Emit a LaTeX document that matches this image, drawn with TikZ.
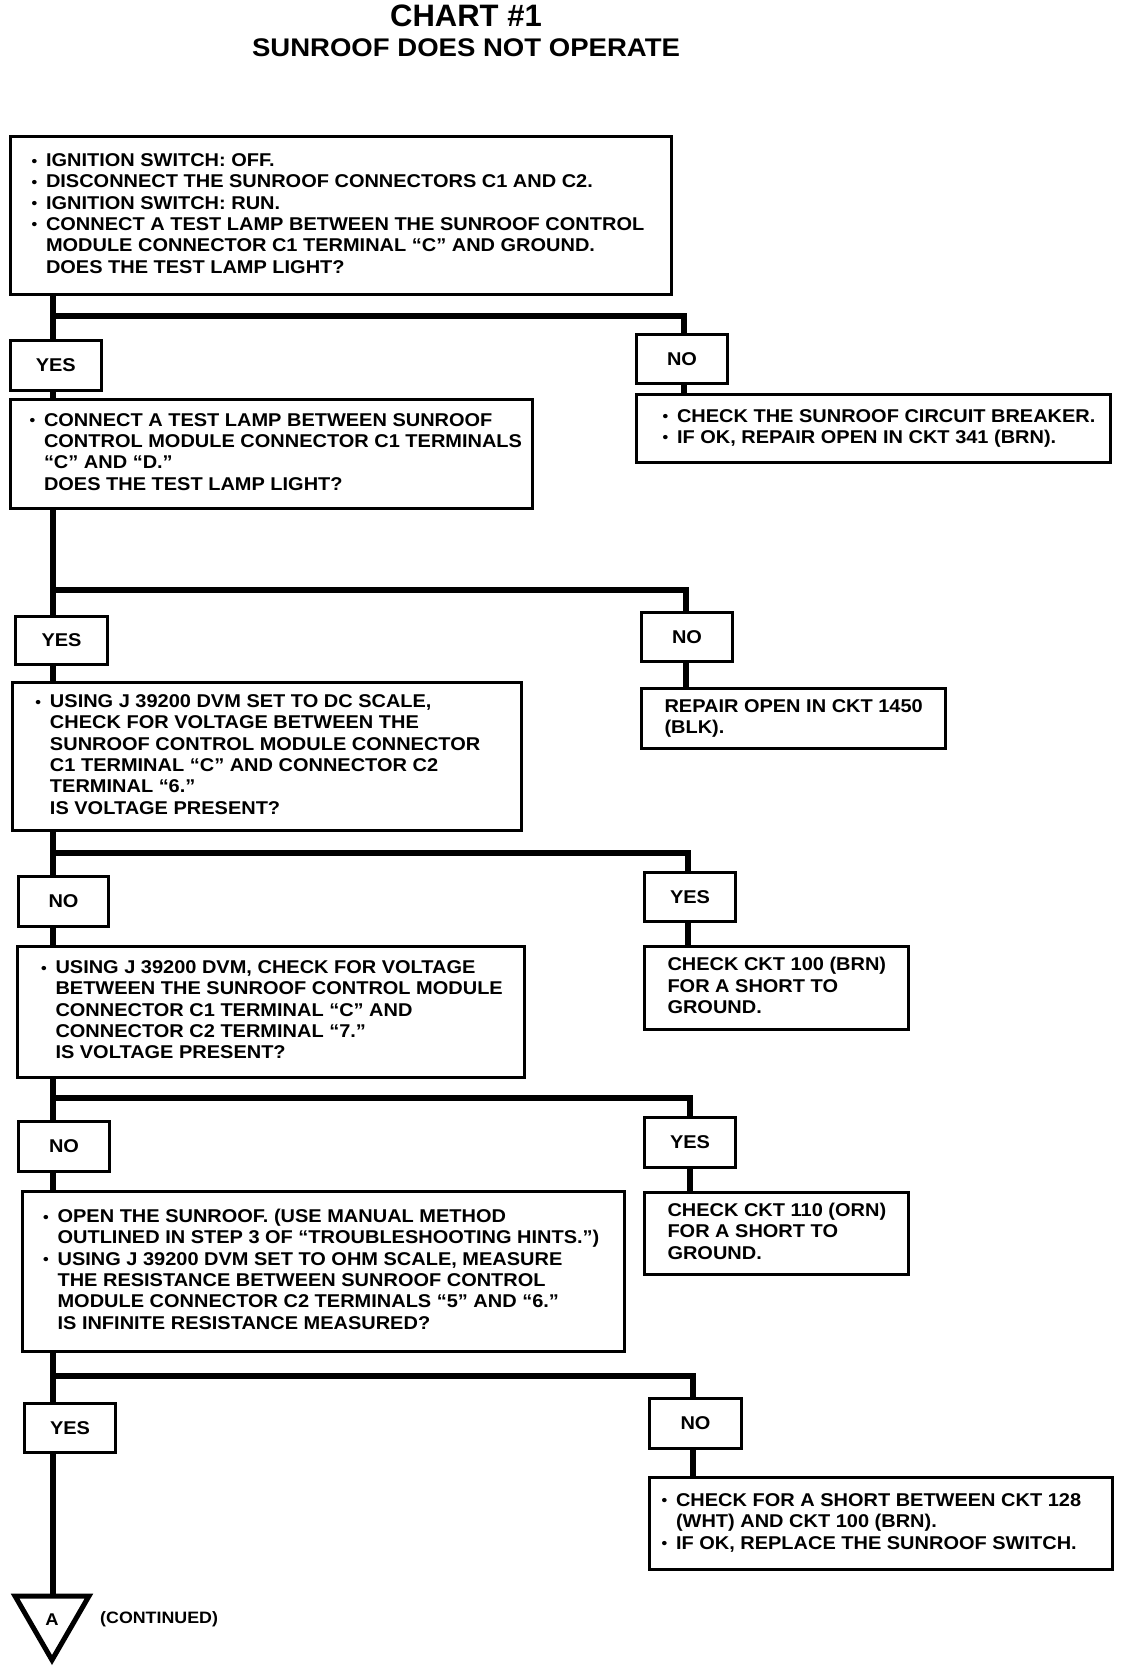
\documentclass[tikz,border=0pt]{standalone}
\usepackage{fontspec}
\newfontfamily\cf{Liberation Sans}[FakeStretch=1.08]
\newfontfamily\tf{Liberation Sans}
\usetikzlibrary{backgrounds}
\newcommand\bu{\makebox[14.5pt][l]{\raisebox{0.5pt}{\fontsize{15}{15}\selectfont •}}}
\newcommand\ind{\hspace*{14.5pt}}
\newcommand\btext[3]{\makebox[#1pt][l]{\hspace*{#2pt}\begin{tabular}{@{}l@{}}#3\end{tabular}}}
\tikzset{
  chart/.style={font=\cf\bfseries\fontsize{18.5}{21.3}\selectfont},
  box/.style={draw, line width=3pt, fill=white, inner sep=0pt, anchor=north west, chart},
  ans/.style={box, align=center},
  conn/.style={line width=5.5pt},
  hconn/.style={line width=6.5pt, line cap=rect},
}
\begin{document}
\begin{tikzpicture}[x=1pt, y=-1pt]
\useasboundingbox (0,0) rectangle (1120,1672);
% titles
\node[font=\tf\bfseries\fontsize{31}{31}\selectfont] (title) at (466,16) {CHART \#1};
\node[font=\cf\bfseries\fontsize{25.5}{25.5}\selectfont] (subtitle) at (466,48) {SUNROOF DOES NOT OPERATE};
% level 1
\node[box, minimum width=661.5pt, minimum height=158pt] (b1) at (8.5,135) {\btext{661.5}{21.5}{%
\bu IGNITION SWITCH: OFF.\\
\bu DISCONNECT THE SUNROOF CONNECTORS C1 AND C2.\\
\bu IGNITION SWITCH: RUN.\\
\bu CONNECT A TEST LAMP BETWEEN THE SUNROOF CONTROL\\
\ind MODULE CONNECTOR C1 TERMINAL “C” AND GROUND.\\
\ind DOES THE TEST LAMP LIGHT?}};
\node[ans, minimum width=91.5pt, minimum height=50pt] (y1) at (8.5,339) {YES};
\node[ans, minimum width=91pt, minimum height=49pt] (n1) at (635,333) {NO};
\node[box, minimum width=474pt, minimum height=68pt] (r1) at (635,393) {\btext{474}{26}{%
\bu CHECK THE SUNROOF CIRCUIT BREAKER.\\
\bu IF OK, REPAIR OPEN IN CKT 341 (BRN).}};
% level 2
\node[box, minimum width=522.5pt, minimum height=109pt] (b2) at (8.5,398) {\btext{522.5}{19.5}{%
\bu CONNECT A TEST LAMP BETWEEN SUNROOF\\
\ind CONTROL MODULE CONNECTOR C1 TERMINALS\\
\ind “C” AND “D.”\\
\ind DOES THE TEST LAMP LIGHT?}};
\node[ans, minimum width=92pt, minimum height=48pt] (y2) at (14,615) {YES};
\node[ans, minimum width=91pt, minimum height=49pt] (n2) at (640,611) {NO};
\node[box, minimum width=304pt, minimum height=60pt] (r2) at (640,687) {\btext{304}{23}{%
REPAIR OPEN IN CKT 1450\\
(BLK).}};
% level 3
\node[box, minimum width=509pt, minimum height=148pt] (b3) at (11,681) {\btext{509}{23}{%
\bu USING J 39200 DVM SET TO DC SCALE,\\
\ind CHECK FOR VOLTAGE BETWEEN THE\\
\ind SUNROOF CONTROL MODULE CONNECTOR\\
\ind C1 TERMINAL “C” AND CONNECTOR C2\\
\ind TERMINAL “6.”\\
\ind IS VOLTAGE PRESENT?}};
\node[ans, minimum width=90pt, minimum height=50pt] (n3) at (17,875) {NO};
\node[ans, minimum width=91pt, minimum height=49pt] (y3) at (643,871) {YES};
\node[box, minimum width=264pt, minimum height=83pt] (r3) at (643,945) {\btext{264}{23}{%
CHECK CKT 100 (BRN)\\
FOR A SHORT TO\\
GROUND.}};
% level 4
\node[box, minimum width=507pt, minimum height=131pt] (b4) at (16,945) {\btext{507}{23.5}{%
\bu USING J 39200 DVM, CHECK FOR VOLTAGE\\
\ind BETWEEN THE SUNROOF CONTROL MODULE\\
\ind CONNECTOR C1 TERMINAL “C” AND\\
\ind CONNECTOR C2 TERMINAL “7.”\\
\ind IS VOLTAGE PRESENT?}};
\node[ans, minimum width=91pt, minimum height=50pt] (n4) at (17,1120) {NO};
\node[ans, minimum width=91pt, minimum height=50pt] (y4) at (643,1116) {YES};
\node[box, minimum width=264pt, minimum height=82pt] (r4) at (643,1191) {\btext{264}{23}{%
CHECK CKT 110 (ORN)\\
FOR A SHORT TO\\
GROUND.}};
% level 5
\node[box, minimum width=602pt, minimum height=160pt] (b5) at (21,1190) {\btext{602}{20.6}{%
\bu OPEN THE SUNROOF. (USE MANUAL METHOD\\
\ind OUTLINED IN STEP 3 OF “TROUBLESHOOTING HINTS.”)\\
\bu USING J 39200 DVM SET TO OHM SCALE, MEASURE\\
\ind THE RESISTANCE BETWEEN SUNROOF CONTROL\\
\ind MODULE CONNECTOR C2 TERMINALS “5” AND “6.”\\
\ind IS INFINITE RESISTANCE MEASURED?}};
\node[ans, minimum width=91pt, minimum height=49pt] (y5) at (23,1402) {YES};
\node[ans, minimum width=92pt, minimum height=50pt] (n5) at (648,1397) {NO};
\node[box, minimum width=463pt, minimum height=92pt] (r5) at (648,1476) {\btext{463}{12}{%
\bu CHECK FOR A SHORT BETWEEN CKT 128\\
\ind (WHT) AND CKT 100 (BRN).\\
\bu IF OK, REPLACE THE SUNROOF SWITCH.}};
% continuation triangle
\coordinate (tri) at (53,1596);
\draw[line width=5pt, line join=miter] (15,1596) -- (89,1596) -- (52,1660) -- cycle;
\node[chart, font=\cf\bfseries\fontsize{17}{17}\selectfont] (A) at (52,1620) {A};
\node[chart, font=\cf\bfseries\fontsize{16.5}{16.5}\selectfont, anchor=west, inner sep=0pt] (cont) at (100,1619) {(CONTINUED)};
% junctions
\coordinate (tr) at (53,0);
\coordinate (h1) at (53,316);  \coordinate (k1) at (684,316);
\coordinate (h2) at (53,590);  \coordinate (k2) at (686,590);
\coordinate (h3) at (53,853);  \coordinate (k3) at (688,853);
\coordinate (h4) at (53,1098); \coordinate (k4) at (690,1098);
\coordinate (h5) at (53,1376); \coordinate (k5) at (693,1376);
\begin{scope}[on background layer]
\fill[white] (0,0) rectangle (1120,1672);
% trunk
\draw[conn] (b1.south -| tr) -- (y1.north -| tr);
\draw[conn] (y1.south -| tr) -- (b2.north -| tr);
\draw[conn] (b2.south -| tr) -- (y2.north -| tr);
\draw[conn] (y2.south -| tr) -- (b3.north -| tr);
\draw[conn] (b3.south -| tr) -- (n3.north -| tr);
\draw[conn] (n3.south -| tr) -- (b4.north -| tr);
\draw[conn] (b4.south -| tr) -- (n4.north -| tr);
\draw[conn] (n4.south -| tr) -- (b5.north -| tr);
\draw[conn] (b5.south -| tr) -- (y5.north -| tr);
\draw[conn] (y5.south -| tr) -- (tri);
% branches
\draw[hconn] (h1) -- (k1);
\draw[hconn] (h2) -- (k2);
\draw[hconn] (h3) -- (k3);
\draw[hconn] (h4) -- (k4);
\draw[hconn] (h5) -- (k5);
\draw[conn] (k1) -- (n1.north -| k1);
\draw[conn] (n1.south -| k1) -- (r1.north -| k1);
\draw[conn] (k2) -- (n2.north -| k2);
\draw[conn] (n2.south -| k2) -- (r2.north -| k2);
\draw[conn] (k3) -- (y3.north -| k3);
\draw[conn] (y3.south -| k3) -- (r3.north -| k3);
\draw[conn] (k4) -- (y4.north -| k4);
\draw[conn] (y4.south -| k4) -- (r4.north -| k4);
\draw[conn] (k5) -- (n5.north -| k5);
\draw[conn] (n5.south -| k5) -- (r5.north -| k5);
\end{scope}
\end{tikzpicture}
\end{document}
